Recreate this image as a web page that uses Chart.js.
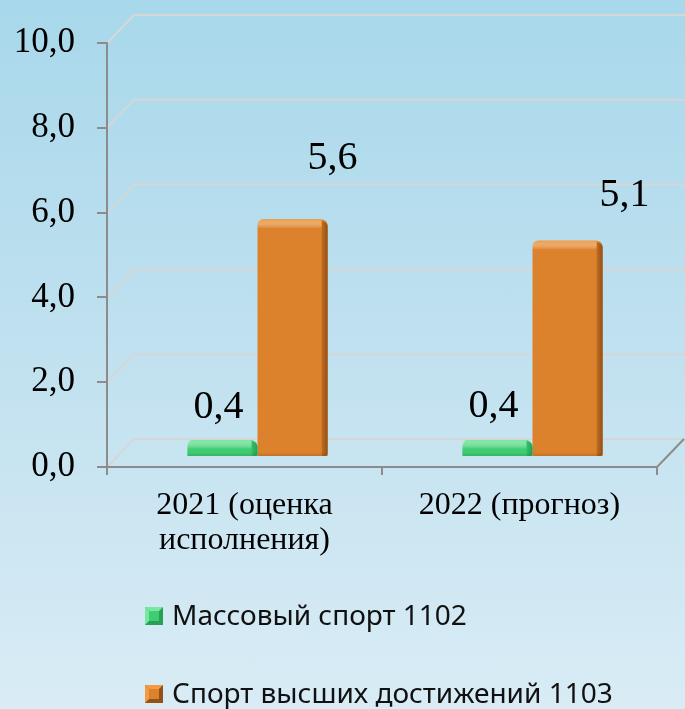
<!DOCTYPE html>
<html lang="ru">
<head>
<meta charset="utf-8">
<title>Спорт</title>
<script src="https://cdn.jsdelivr.net/npm/chart.js@4.4.0/dist/chart.umd.min.js"></script>
<style>
  html, body { margin: 0; padding: 0; }
  body {
    width: 685px;
    height: 709px;
    overflow: hidden;
    background: linear-gradient(to bottom, #a8d8eb 0%, #c3e2f0 55%, #d9ecf5 100%);
  }
  #chart { display: block; }
</style>
</head>
<body>
<canvas id="chart" width="685" height="709"></canvas>
<script>
// Données
const categories = [["2021 (оценка", "исполнения)"], "2022 (прогноз)"]
const massSport = [0.4, 0.4]
const eliteSport = [5.6, 5.1]
const seriesNames = ["Массовый спорт 1102", "Спорт высших достижений 1103"]
const yTicks = [0, 2, 4, 6, 8, 10]

// Style
const depthX = 27
const depthY = 28
const barShiftX = 13
const barShiftY = 10
const labelShift = [
  [[-4, -33], [-4, -34]],
  [[40, -61], [57, -45]],
]

function fmt(v) {
  return v.toFixed(1).replace(".", ",")
}

// Mur du fond + plancher
const wallPlugin = {
  id: "wall",
  beforeDraw(chart) {
    const { ctx, chartArea, scales } = chart
    ctx.save()
    ctx.lineWidth = 2
    ctx.strokeStyle = "#d6d6d6"
    yTicks.forEach((v) => {
      const py = scales.y.getPixelForValue(v)
      ctx.beginPath()
      ctx.moveTo(chartArea.left, py)
      ctx.lineTo(chartArea.left + depthX, py - depthY)
      ctx.lineTo(chart.width, py - depthY)
      ctx.stroke()
    })
    ctx.strokeStyle = "#8c8c8c"
    ctx.beginPath()
    ctx.moveTo(chartArea.right, chartArea.bottom)
    ctx.lineTo(chartArea.right + depthX, chartArea.bottom - depthY)
    ctx.stroke()
    ctx.restore()
  },
}

// Barres en relief
const barsPlugin = {
  id: "bars3d",
  beforeDatasetsDraw(chart) {
    chart.ctx.save()
    chart.ctx.translate(barShiftX, -barShiftY)
  },
  afterDatasetsDraw(chart) {
    const c = chart.ctx
    chart.data.datasets.forEach((ds, i) => {
      chart.getDatasetMeta(i).data.forEach((bar) => {
        const { x, y, base, width } = bar.getProps(["x", "y", "base", "width"], true)
        const left = x - width / 2
        const right = x + width / 2
        const h = base - y
        // face latérale
        const side = c.createLinearGradient(right - 6, 0, right, 0)
        side.addColorStop(0, ds.sideLight)
        side.addColorStop(1, ds.sideDark)
        c.fillStyle = side
        c.beginPath()
        c.roundRect(right - 6, y + 2, 6, h - 2, [0, 5, 3, 0])
        c.fill()
        // biseau du haut
        const top = c.createLinearGradient(0, y, 0, y + 9)
        top.addColorStop(0, ds.topColor)
        top.addColorStop(1, "rgba(255,255,255,0)")
        c.fillStyle = top
        c.beginPath()
        c.roundRect(left, y, width - 6, Math.min(9, h), [5, 0, 0, 0])
        c.fill()
        // ombre du bas
        const bottom = c.createLinearGradient(0, base - 4, 0, base)
        bottom.addColorStop(0, "rgba(0,0,0,0)")
        bottom.addColorStop(1, "rgba(0,0,0,0.12)")
        c.fillStyle = bottom
        c.fillRect(left, base - 4, width, 4)
      })
    })
    c.restore()
  },
}

// Étiquettes de valeurs
const valueLabels = {
  id: "valueLabels",
  afterDraw(chart) {
    const c = chart.ctx
    c.save()
    c.font = "40px 'Liberation Serif'"
    c.fillStyle = "#000"
    c.textAlign = "center"
    c.textBaseline = "middle"
    chart.data.datasets.forEach((ds, i) => {
      chart.getDatasetMeta(i).data.forEach((bar, j) => {
        const [dx, dy] = labelShift[i][j]
        c.fillText(fmt(ds.data[j]), bar.x + barShiftX + dx, bar.y - barShiftY + dy)
      })
    })
    c.restore()
  },
}

// Légende verticale
const sideLegend = {
  id: "sideLegend",
  afterDraw(chart) {
    const c = chart.ctx
    const boxX = 145
    const rows = [616, 694]
    c.save()
    c.font = "28px 'Noto Sans'"
    c.textBaseline = "middle"
    chart.data.datasets.forEach((ds, i) => {
      const cy = rows[i]
      const s = 18
      const x0 = boxX
      const y0 = cy - s / 2
      c.fillStyle = ds.sideDark
      c.fillRect(x0, y0, s, s)
      c.fillStyle = ds.topColor
      c.beginPath()
      c.moveTo(x0, y0); c.lineTo(x0 + s, y0); c.lineTo(x0 + s - 4, y0 + 4); c.lineTo(x0 + 4, y0 + 4)
      c.closePath(); c.fill()
      c.beginPath()
      c.moveTo(x0, y0); c.lineTo(x0 + 4, y0 + 4); c.lineTo(x0 + 4, y0 + s - 4); c.lineTo(x0, y0 + s)
      c.closePath(); c.fill()
      c.fillStyle = ds.backgroundColor
      c.fillRect(x0 + 4, y0 + 4, s - 8, s - 8)
      c.fillStyle = "#111"
      c.fillText(ds.label, 172, cy + 1)
    })
    c.restore()
  },
}

const axisColor = "#8c8c8c"

new Chart(document.getElementById("chart"), {
  type: "bar",
  data: {
    labels: categories,
    datasets: [
      {
        label: seriesNames[0],
        data: massSport,
        backgroundColor: "#3fcd73",
        topColor: "#78e8a0",
        sideLight: "#36bf68",
        sideDark: "#27a055",
        borderRadius: { topLeft: 7, topRight: 7 },
        borderSkipped: "bottom",
      },
      {
        label: seriesNames[1],
        data: eliteSport,
        backgroundColor: "#dc822c",
        topColor: "#f29b40",
        sideLight: "#c06d22",
        sideDark: "#955017",
        borderRadius: { topLeft: 6, topRight: 6 },
        borderSkipped: "bottom",
      },
    ],
  },
  options: {
    responsive: false,
    animation: false,
    layout: {
      padding: { top: 40, right: 28, bottom: 146, left: 0 },
    },
    datasets: {
      bar: {
        barPercentage: 1,
        categoryPercentage: 0.51,
      },
    },
    plugins: {
      legend: { display: false },
      tooltip: { enabled: false },
    },
    scales: {
      x: {
        afterFit(scale) {
          scale.height = 96
        },
        grid: {
          offset: true,
          drawOnChartArea: false,
          drawTicks: true,
          tickLength: 8,
          color: axisColor,
          lineWidth: 2,
        },
        border: { color: axisColor, width: 2 },
        ticks: {
          color: "#000",
          padding: 13,
          maxRotation: 0,
          font: { family: "'Liberation Serif'", size: 32, lineHeight: 1.1 },
        },
      },
      y: {
        min: 0,
        max: 10,
        afterFit(scale) {
          scale.width = 107
        },
        afterBuildTicks(scale) {
          scale.ticks = yTicks.map((v) => ({ value: v }))
        },
        grid: {
          drawOnChartArea: false,
          drawTicks: true,
          tickLength: 10,
          color: axisColor,
          lineWidth: 2,
        },
        border: { color: axisColor, width: 2 },
        ticks: {
          color: "#000",
          padding: 22,
          font: { family: "'Liberation Serif'", size: 35 },
          callback: (v) => fmt(v),
        },
      },
    },
  },
  plugins: [wallPlugin, barsPlugin, valueLabels, sideLegend],
})
</script>
</body>
</html>
